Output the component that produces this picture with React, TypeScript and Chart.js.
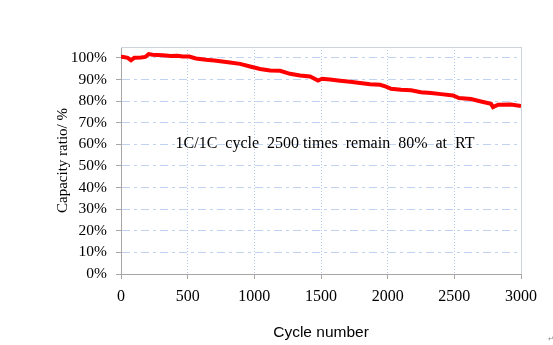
import React, { useEffect, useRef } from "react";
import { Chart, registerables } from "chart.js";

Chart.register(...registerables);

const cycles = [0, 12, 50, 75, 100, 150, 182, 207, 237, 312, 375, 425, 462, 512, 562, 637, 700, 818, 893, 968, 1043, 1118, 1193, 1268, 1343, 1418, 1478, 1508, 1568, 1643, 1718, 1793, 1868, 1943, 1988, 2025, 2100, 2175, 2250, 2325, 2400, 2490, 2535, 2625, 2700, 2775, 2790, 2828, 2925, 3000];
const capacity = [100.2, 100.5, 100, 98.9, 100, 100.1, 100.4, 101.7, 101.4, 101.2, 100.8, 100.9, 100.6, 100.6, 99.7, 99.1, 98.8, 97.8, 97.2, 96, 94.8, 94.1, 94, 92.6, 91.8, 91.4, 89.5, 90.3, 90, 89.4, 88.9, 88.3, 87.8, 87.5, 86.7, 85.7, 85.2, 85, 84.1, 83.7, 83.2, 82.6, 81.4, 80.9, 79.8, 78.7, 77.2, 78.3, 78.4, 77.7];

const yTickValues = [0, 10, 20, 30, 40, 50, 60, 70, 80, 90, 100];
const xTickValues = [0, 500, 1000, 1500, 2000, 2500, 3000];

const xTitle = "Cycle number";
const yTitle = "Capacity ratio/ %";
const annotation = "1C/1C  cycle  2500 times  remain  80%  at  RT";
const annotationAt = { x: 1530, y: 60 };
const cornerMark = "↵";

const serif = "'Liberation Serif', 'Times New Roman', serif";
const sans = "'Liberation Sans', Arial, sans-serif";

const framePlugin = {
  id: "frame",
  beforeDatasetsDraw(chart: any) {
    const { ctx, chartArea } = chart;
    ctx.save();
    ctx.strokeStyle = "#cfd3da";
    ctx.lineWidth = 1;
    ctx.setLineDash([]);
    ctx.beginPath();
    ctx.moveTo(chartArea.left, chartArea.top + 0.5);
    ctx.lineTo(chartArea.right + 0.5, chartArea.top + 0.5);
    ctx.lineTo(chartArea.right + 0.5, chartArea.bottom);
    ctx.stroke();
    ctx.restore();
  },
  afterDraw(chart: any) {
    const { ctx } = chart;
    const xs = chart.scales.x;
    const ys = chart.scales.y;
    ctx.save();
    ctx.fillStyle = "#000";
    ctx.font = `16px ${serif}`;
    ctx.textAlign = "center";
    ctx.textBaseline = "middle";
    ctx.fillText(annotation, xs.getPixelForValue(annotationAt.x), ys.getPixelForValue(annotationAt.y));
    ctx.fillStyle = "#888";
    ctx.font = `7px ${sans}`;
    ctx.fillText(cornerMark, chart.width - 2, chart.height - 6);
    ctx.restore();
  },
};

export default function App() {
  const ref = useRef<HTMLCanvasElement>(null);
  useEffect(() => {
    if (!ref.current) return;
    const chart = new Chart(ref.current, {
      type: "line",
      data: {
        datasets: [
          {
            data: cycles.map((c, i) => ({ x: c, y: capacity[i] })),
            borderColor: "#ff0000",
            borderWidth: 4,
            pointRadius: 0,
            tension: 0,
            fill: false,
          },
        ],
      },
      options: {
        animation: false,
        responsive: false,
        layout: { padding: { top: 47, right: 32, bottom: 0, left: 0 } },
        plugins: { legend: { display: false }, tooltip: { enabled: false } },
        scales: {
          x: {
            type: "linear",
            min: 0,
            max: 3000,
            afterBuildTicks(scale: any) {
              scale.ticks = xTickValues.map((v) => ({ value: v }));
            },
            ticks: {
              color: "#000",
              font: { family: serif, size: 16 },
              padding: 8,
              maxRotation: 0,
              autoSkip: false,
              callback: (v: any) => String(v),
            },
            grid: {
              color: "#b3c8ee",
              tickColor: "#a6a6a6",
              tickBorderDash: [],
              tickLength: 5,
            },
            border: { color: "#a6a6a6", width: 1, dash: [1, 2] },
            title: {
              display: true,
              text: xTitle,
              color: "#000",
              font: { family: sans, size: 15.5 },
              padding: { top: 0, bottom: 2.5 },
            },
            afterFit(scale: any) {
              scale.height = 71;
            },
          },
          y: {
            min: 0,
            max: 105,
            afterBuildTicks(scale: any) {
              scale.ticks = yTickValues.map((v) => ({ value: v }));
            },
            ticks: {
              color: "#000",
              font: { family: serif, size: 15.5 },
              padding: 9,
              autoSkip: false,
              callback: (v: any) => v + "%",
            },
            grid: {
              color: "#c2d3f2",
              tickColor: "#a6a6a6",
              tickBorderDash: [],
              tickLength: 5,
            },
            border: { color: "#a6a6a6", width: 1, dash: [8, 4, 3, 4] },
            title: {
              display: true,
              text: yTitle,
              color: "#000",
              font: { family: serif, size: 15 },
              padding: { top: 54, bottom: 0 },
            },
            afterFit(scale: any) {
              scale.width = 121;
            },
          },
        },
      },
      plugins: [framePlugin],
    });
    return () => chart.destroy();
  }, []);
  return (
    <div style={{ position: "fixed", left: 0, top: 0, width: 553, height: 345, background: "#fff" }}>
      <canvas ref={ref} width={553} height={345} style={{ display: "block" }} />
    </div>
  );
}
